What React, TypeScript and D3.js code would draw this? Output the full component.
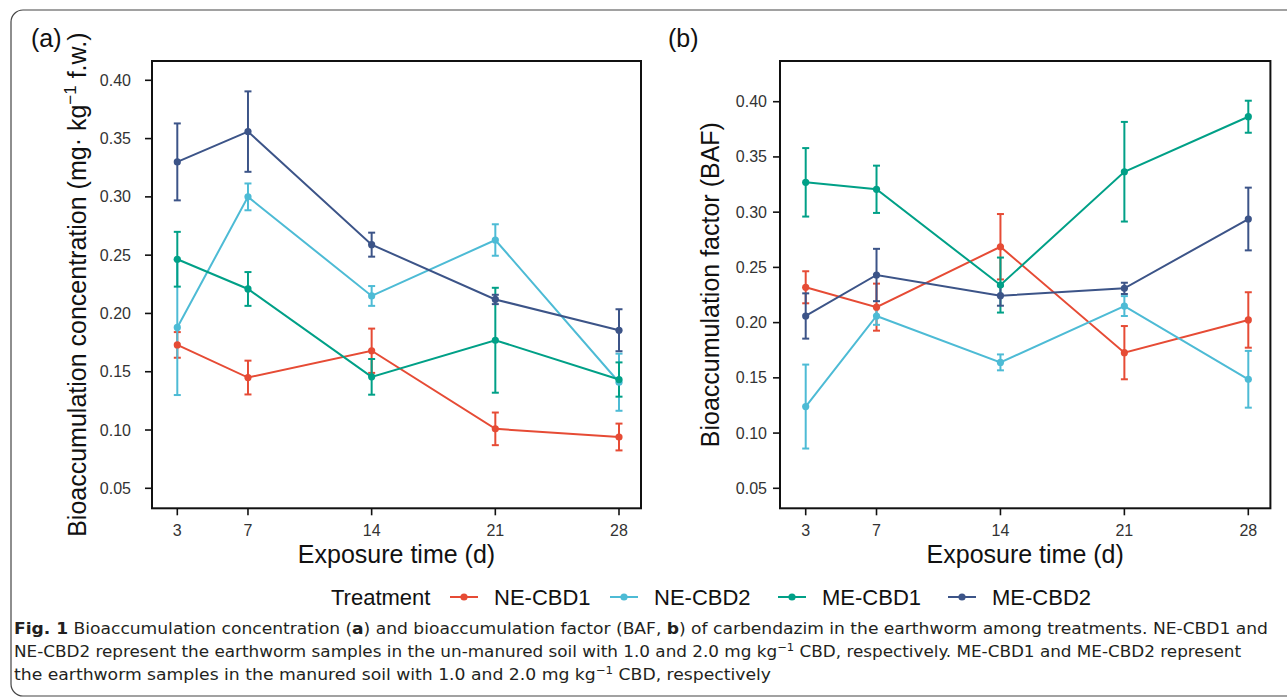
import React from "react";
import * as d3 from "d3";

// exposure days and treatments
const days = [3, 7, 14, 21, 28];
const treatments = ["NE-CBD1", "NE-CBD2", "ME-CBD1", "ME-CBD2"];
const colors = ["#E64B35", "#4DBBD5", "#00A087", "#3C5488"];
const yTicks = [0.05, 0.1, 0.15, 0.2, 0.25, 0.3, 0.35, 0.4];

// (a) bioaccumulation concentration, mean and SE
const concNE1 = [0.173, 0.145, 0.168, 0.101, 0.094];
const concNE1se = [0.011, 0.0145, 0.019, 0.014, 0.0115];
const concNE2 = [0.188, 0.3, 0.215, 0.263, 0.141];
const concNE2se = [0.058, 0.0115, 0.0085, 0.0135, 0.0245];
const concME1 = [0.2465, 0.221, 0.1456, 0.177, 0.1433];
const concME1se = [0.0235, 0.0145, 0.0153, 0.045, 0.0147];
const concME2 = [0.33, 0.356, 0.259, 0.212, 0.1856];
const concME2se = [0.033, 0.0345, 0.0103, 0.004, 0.018];

// (b) bioaccumulation factor, mean and SE
const bafNE1 = [0.232, 0.214, 0.2687, 0.1728, 0.2024];
const bafNE1se = [0.0145, 0.0213, 0.0296, 0.0241, 0.0251];
const bafNE2 = [0.124, 0.206, 0.164, 0.215, 0.1487];
const bafNE2se = [0.038, 0.008, 0.0072, 0.009, 0.0257];
const bafME1 = [0.327, 0.3207, 0.234, 0.3366, 0.3864];
const bafME1se = [0.031, 0.0214, 0.0249, 0.0451, 0.0145];
const bafME2 = [0.206, 0.2431, 0.2244, 0.231, 0.2938];
const bafME2se = [0.0205, 0.0237, 0.0091, 0.0051, 0.0284];

const FONT = "'Liberation Sans', Arial, sans-serif";
const CAPFONT = "'Liberation Sans Narrow', 'DejaVu Sans Condensed', 'Liberation Sans', sans-serif";

type Series = { name: string; color: string; mean: number[]; se: number[] };

function Panel(props: {
  series: Series[];
  box: { left: number; right: number; top: number; bottom: number };
  xRange: [number, number];
  yRange: [number, number];
  tickLabelX: number;
  tag: string;
  tagX: number;
  yTitleX: number;
  yTitle: React.ReactNode;
}) {
  const { series, box, xRange, yRange, tickLabelX } = props;
  const x = d3.scaleLinear().domain([3, 28]).range(xRange);
  const y = d3.scaleLinear().domain([0.05, 0.4]).range(yRange);
  const line = d3
    .line<number>()
    .x((d, i) => x(days[i]))
    .y((d) => y(d));
  const cap = 3.5;
  const midY = (box.top + box.bottom) / 2;
  const midX = (box.left + box.right) / 2;

  return (
    <g>
      <text x={props.tagX} y={47} fontFamily={FONT} fontSize={25} fill="#111">
        {props.tag}
      </text>
      {series.map((s) => (
        <g key={"e" + s.name} stroke={s.color} strokeWidth={2} fill="none">
          {s.mean.map((m, i) => (
            <g key={i}>
              <line x1={x(days[i])} x2={x(days[i])} y1={y(m - s.se[i])} y2={y(m + s.se[i])} />
              <line x1={x(days[i]) - cap} x2={x(days[i]) + cap} y1={y(m - s.se[i])} y2={y(m - s.se[i])} />
              <line x1={x(days[i]) - cap} x2={x(days[i]) + cap} y1={y(m + s.se[i])} y2={y(m + s.se[i])} />
            </g>
          ))}
        </g>
      ))}
      {series.map((s) => (
        <path key={"l" + s.name} d={line(s.mean) || ""} stroke={s.color} strokeWidth={2} fill="none" />
      ))}
      {series.map((s) => (
        <g key={"p" + s.name} fill={s.color}>
          {s.mean.map((m, i) => (
            <circle key={i} cx={x(days[i])} cy={y(m)} r={3.6} />
          ))}
        </g>
      ))}
      <rect
        x={box.left}
        y={box.top}
        width={box.right - box.left}
        height={box.bottom - box.top}
        fill="none"
        stroke="#111"
        strokeWidth={2}
      />
      {yTicks.map((t) => (
        <g key={t}>
          <line x1={box.left - 7} x2={box.left} y1={y(t)} y2={y(t)} stroke="#111" strokeWidth={1.6} />
          <text
            x={tickLabelX}
            y={y(t) + 5.5}
            textAnchor="end"
            fontFamily={FONT}
            fontSize={16}
            fill="#333"
          >
            {t.toFixed(2)}
          </text>
        </g>
      ))}
      {days.map((d) => (
        <g key={d}>
          <line x1={x(d)} x2={x(d)} y1={box.bottom} y2={box.bottom + 7} stroke="#111" strokeWidth={1.6} />
          <text x={x(d)} y={536} textAnchor="middle" fontFamily={FONT} fontSize={16} fill="#333">
            {d}
          </text>
        </g>
      ))}
      <text x={midX} y={563} textAnchor="middle" fontFamily={FONT} fontSize={25} fill="#111">
        Exposure time (d)
      </text>
      <text
        transform={`translate(${props.yTitleX},${midY}) rotate(-90)`}
        textAnchor="middle"
        fontFamily={FONT}
        fontSize={25}
        fill="#111"
      >
        {props.yTitle}
      </text>
    </g>
  );
}

export default function App() {
  const concSeries: Series[] = [
    { name: treatments[0], color: colors[0], mean: concNE1, se: concNE1se },
    { name: treatments[1], color: colors[1], mean: concNE2, se: concNE2se },
    { name: treatments[2], color: colors[2], mean: concME1, se: concME1se },
    { name: treatments[3], color: colors[3], mean: concME2, se: concME2se },
  ];
  const bafSeries: Series[] = [
    { name: treatments[0], color: colors[0], mean: bafNE1, se: bafNE1se },
    { name: treatments[1], color: colors[1], mean: bafNE2, se: bafNE2se },
    { name: treatments[2], color: colors[2], mean: bafME1, se: bafME1se },
    { name: treatments[3], color: colors[3], mean: bafME2, se: bafME2se },
  ];
  const legendKeyX = [450, 610, 778, 948];

  return (
    <svg
      width={1287}
      height={699}
      style={{ position: "absolute", left: 0, top: 0, background: "#fff" }}
    >
      <rect x={11} y={10} width={1300} height={686} rx={12} fill="#fff" stroke="#444" strokeWidth={1.2} />
      <Panel
        series={concSeries}
        box={{ left: 152, right: 641, top: 61, bottom: 508.3 }}
        xRange={[177.3, 619]}
        yRange={[488.3, 80.3]}
        tickLabelX={131}
        tag="(a)"
        tagX={31}
        yTitleX={86}
        yTitle={
          <>
            Bioaccumulation concentration (mg· kg
            <tspan fontSize={17} dy={-10}>−1</tspan>
            <tspan dy={10}>{"   f.w.)"}</tspan>
          </>
        }
      />
      <Panel
        series={bafSeries}
        box={{ left: 780, right: 1270.4, top: 61, bottom: 508.3 }}
        xRange={[805.7, 1248.3]}
        yRange={[488.3, 101.7]}
        tickLabelX={767}
        tag="(b)"
        tagX={668}
        yTitleX={719}
        yTitle={<>Bioaccumulation factor (BAF)</>}
      />
      {/* legend */}
      <text x={331} y={605} fontFamily={FONT} fontSize={22} fill="#111">
        Treatment
      </text>
      {treatments.map((t, i) => (
        <g key={t}>
          <line
            x1={legendKeyX[i]}
            x2={legendKeyX[i] + 28}
            y1={597}
            y2={597}
            stroke={colors[i]}
            strokeWidth={2}
          />
          <circle cx={legendKeyX[i] + 14} cy={597} r={3.6} fill={colors[i]} />
          <text x={legendKeyX[i] + 44} y={605} fontFamily={FONT} fontSize={22} fill="#111">
            {t}
          </text>
        </g>
      ))}
      {/* caption */}
      <g fontFamily={CAPFONT} fontSize={16} fill="#231f20">
        <text x={14} y={634} textLength={1254} lengthAdjust="spacingAndGlyphs">
          <tspan fontWeight="bold">Fig. 1</tspan>
          {"  Bioaccumulation concentration ("}
          <tspan fontWeight="bold">a</tspan>
          {") and bioaccumulation factor (BAF, "}
          <tspan fontWeight="bold">b</tspan>
          {") of carbendazim in the earthworm among treatments. NE-CBD1 and"}
        </text>
        <text x={14} y={657} textLength={1227} lengthAdjust="spacingAndGlyphs">
          {"NE-CBD2 represent the earthworm samples in the un-manured soil with 1.0 and 2.0 mg kg"}
          <tspan fontSize={11} dy={-6}>−1</tspan>
          <tspan dy={6}>{" CBD, respectively. ME-CBD1 and ME-CBD2 represent"}</tspan>
        </text>
        <text x={14} y={680} textLength={757} lengthAdjust="spacingAndGlyphs">
          {"the earthworm samples in the manured soil with 1.0 and 2.0 mg kg"}
          <tspan fontSize={11} dy={-6}>−1</tspan>
          <tspan dy={6}>{" CBD, respectively"}</tspan>
        </text>
      </g>
    </svg>
  );
}
